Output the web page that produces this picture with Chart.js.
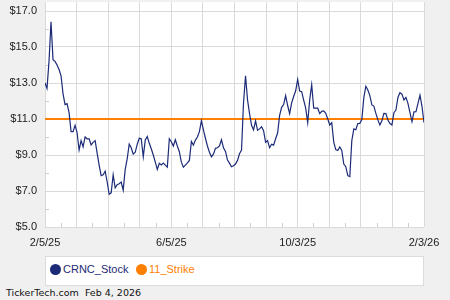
<!DOCTYPE html>
<html>
<head>
<meta charset="utf-8">
<script src="https://cdn.jsdelivr.net/npm/chart.js@4/dist/chart.umd.min.js"></script>
<style>
  body { margin: 0; background: #f0f0f0; width: 450px; height: 300px; overflow: hidden; position: relative; font-family: 'Liberation Sans', Arial, sans-serif; }
  #wrap { position: absolute; left: 0; top: 0; width: 450px; height: 250px; }
  #legend { position: absolute; left: 45px; top: 256px; width: 377px; height: 28px; background: #fff; border: 1px solid #dcdcdc; }
  .item { position: absolute; top: 5px; font-size: 11px; line-height: 14px; white-space: nowrap; }
  .dot { display: inline-block; width: 11px; height: 11px; border-radius: 50%; vertical-align: -2px; margin-right: 2px; }
  #footer { position: absolute; left: 6px; top: 287px; font-family: 'DejaVu Sans', sans-serif; font-size: 9.5px; color: #111; white-space: pre; }
</style>
</head>
<body>
<div id="wrap"><canvas id="chart"></canvas></div>
<div id="legend">
  <span class="item" style="left:4px;color:#1c2b78"><span class="dot" style="background:#1c2b78"></span>CRNC_Stock</span>
  <span class="item" style="left:90px;color:#ff8000"><span class="dot" style="background:#ff8000"></span>11_Strike</span>
</div>
<div id="footer">TickerTech.com  Feb 4, 2026</div>
<script>
// ── Data ──
const X_LABELS = ['2/5/25', '6/5/25', '10/3/25', '2/3/26'];
const Y_TICKS = [5, 7, 9, 11, 13, 15, 17];
const STRIKE = 11;

// CRNC close, roughly every 2 px across the plot (Feb 2025 → Feb 2026)
const CRNC_STOCK = [
  13.0, 12.7, 14.2, 16.4, 14.3, 14.2, 14.0, 13.75, 13.4, 12.4,
  11.8, 11.85, 11.35, 10.3, 10.3, 10.65, 10.25, 9.28, 9.8, 9.45,
  10.0, 9.9, 9.9, 9.56, 9.7, 9.8, 9.1, 8.44, 7.85, 7.9,
  8.1, 7.5, 6.82, 6.9, 7.9, 7.18, 7.35, 7.4, 7.5, 7.05,
  8.2, 8.8, 9.6, 9.4, 9.05, 9.15, 9.6, 9.93, 9.9, 8.9,
  9.83, 10.03, 9.65, 9.35, 9.0, 8.6, 8.2, 8.54, 8.45, 8.55,
  8.44, 8.33, 9.9, 9.74, 9.5, 9.85, 9.5, 9.18, 8.6, 8.32,
  8.44, 8.56, 8.7, 9.75, 9.55, 9.83, 10.0, 10.3, 10.9, 10.4,
  9.93, 9.5, 9.15, 8.9, 9.05, 9.37, 9.4, 9.5, 9.85, 9.4,
  9.2, 8.72, 8.55, 8.35, 8.4, 8.5, 8.7, 9.07, 9.27, 11.9,
  13.4, 12.06, 11.3, 10.65, 10.4, 10.9, 10.37, 10.45, 10.57, 10.35,
  9.7, 9.8, 9.4, 9.6, 9.55, 9.9, 10.22, 11.2, 11.65, 11.8,
  12.3, 11.75, 11.3, 11.9, 12.25, 12.57, 13.2, 12.55, 12.52, 12.05,
  11.6, 10.8, 12.06, 12.9, 11.6, 11.6, 11.6, 11.3, 11.43, 11.45,
  11.31, 11.0, 10.67, 10.8, 9.72, 9.3, 9.25, 9.45, 9.25, 8.5,
  8.35, 7.85, 7.8, 9.8, 10.45, 10.4, 10.75, 10.76, 10.97, 12.2,
  12.82, 12.61, 12.3, 11.78, 11.72, 11.31, 10.95, 10.67, 10.9, 11.31,
  11.3, 10.94, 10.75, 10.67, 11.35, 11.5, 12.2, 12.46, 12.38, 12.06,
  12.2, 11.87, 11.35, 10.85, 11.4, 11.41, 11.87, 12.33, 11.7, 10.8,
];

const LAST = CRNC_STOCK.length - 1;
const GRID_STEPS = 12;
const GRID = '#dadada';

// white plot area on grey page
const plotBg = {
  id: 'plotBg',
  beforeDraw(chart) {
    const { ctx, chartArea: a } = chart;
    ctx.save();
    ctx.fillStyle = '#ffffff';
    ctx.fillRect(a.left, a.top, a.right - a.left, a.bottom - a.top);
    ctx.restore();
  },
};

// small inner tick marks halfway between grid lines
const minorTicks = {
  id: 'minorTicks',
  beforeDatasetsDraw(chart) {
    const { ctx, chartArea: a, scales } = chart;
    ctx.save();
    ctx.strokeStyle = '#cfcfcf';
    ctx.lineWidth = 1;
    ctx.beginPath();
    for (let k = 0; k < GRID_STEPS; k++) {
      const x = Math.round(scales.x.getPixelForValue((k + 0.5) * LAST / GRID_STEPS)) + 0.5;
      ctx.moveTo(x, a.bottom);
      ctx.lineTo(x, a.bottom - 4);
    }
    for (let i = 0; i < Y_TICKS.length - 1; i++) {
      const y = Math.round(scales.y.getPixelForValue(Y_TICKS[i] + 1)) + 0.5;
      ctx.moveTo(a.left, y);
      ctx.lineTo(a.left + 4, y);
    }
    ctx.stroke();
    ctx.restore();
  },
};

function noPad(s) {
  s.paddingTop = 0;
  s.paddingBottom = 0;
  s.paddingLeft = 0;
  s.paddingRight = 0;
}

new Chart(document.getElementById('chart'), {
  type: 'line',
  data: {
    datasets: [
      {
        label: 'CRNC_Stock',
        data: CRNC_STOCK.map((v, i) => ({ x: i, y: v })),
        borderColor: '#1c2b78',
        borderWidth: 1.2,
        pointRadius: 0,
        tension: 0,
      },
      {
        label: '11_Strike',
        data: CRNC_STOCK.map((v, i) => ({ x: i, y: STRIKE })),
        borderColor: '#ff8000',
        borderWidth: 2,
        pointRadius: 0,
      },
    ],
  },
  options: {
    responsive: true,
    maintainAspectRatio: false,
    animation: false,
    layout: { padding: { top: 2, right: 26, left: 0, bottom: 0 } },
    plugins: {
      legend: { display: false },
      tooltip: { enabled: false },
    },
    scales: {
      x: {
        type: 'linear',
        min: 0,
        max: LAST,
        afterBuildTicks: s => {
          s.ticks = Array.from({ length: GRID_STEPS + 1 }, (_, k) => ({ value: k * LAST / GRID_STEPS }));
        },
        afterFit: s => { s.height = 23; noPad(s); },
        grid: { color: GRID, drawTicks: false },
        border: { display: false },
        ticks: {
          autoSkip: false,
          maxRotation: 0,
          padding: 9,
          color: '#222',
          font: { family: 'Liberation Sans', size: 11 },
          callback: (v, i) => (i % 4 === 0 ? X_LABELS[i / 4] : ''),
        },
      },
      y: {
        min: 5,
        max: 17.5,
        afterBuildTicks: s => { s.ticks = Y_TICKS.map(v => ({ value: v })); },
        afterFit: s => { s.width = 45; noPad(s); },
        grid: { color: GRID, drawTicks: false },
        border: { display: false },
        ticks: {
          padding: 8,
          color: '#222',
          font: { family: 'Liberation Sans', size: 11 },
          callback: v => '$' + v.toFixed(1),
        },
      },
    },
  },
  plugins: [plotBg, minorTicks],
});
</script>
</body>
</html>
